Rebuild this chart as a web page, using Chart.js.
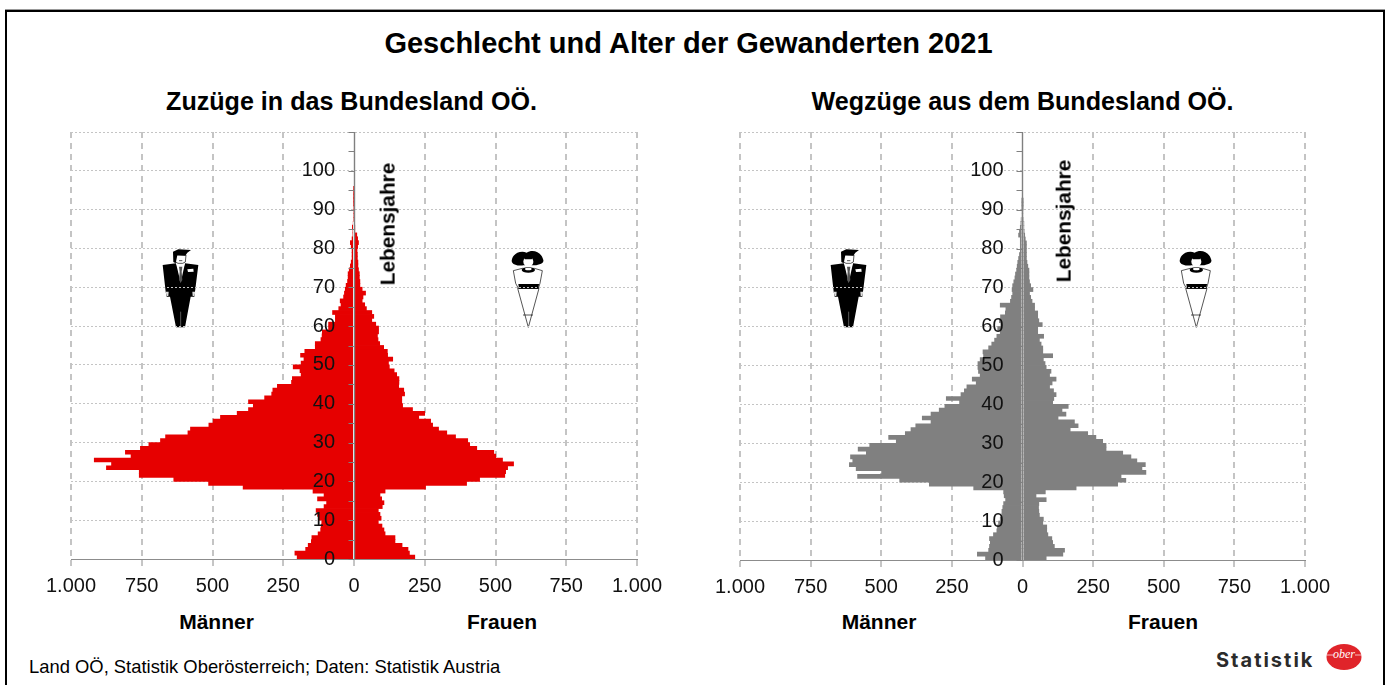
<!DOCTYPE html>
<html lang="de">
<head>
<meta charset="utf-8">
<title>Geschlecht und Alter der Gewanderten 2021</title>
<script src="https://cdn.jsdelivr.net/npm/chart.js@4/dist/chart.umd.min.js"></script>
<style>
html,body{margin:0;padding:0;background:#fff;overflow:hidden;width:1388px;height:685px;font-family:"Liberation Sans",Arial,sans-serif;color:#000}
#frame{position:absolute;left:5px;top:10px;width:1376px;height:700px;border:2px solid #000;box-shadow:0 -1px 0 #999}
.t{position:absolute;white-space:nowrap;line-height:1}
.b{font-weight:bold}
.c{transform:translateX(-50%)}
.v{transform:translate(-50%,-50%) rotate(-90deg)}
canvas{position:absolute;top:0}
svg{position:absolute}
</style>
</head>
<body>
<div id="frame"></div>

<svg style="left:150px;top:240px" width="70" height="95" viewBox="0 0 210 285"><use href="#man"/></svg>
<svg style="left:818px;top:240px" width="70" height="95" viewBox="0 0 210 285"><use href="#man"/></svg>
<svg style="left:495px;top:240px" width="70" height="95" viewBox="0 0 210 285"><use href="#woman"/></svg>
<svg style="left:1163px;top:240px" width="70" height="95" viewBox="0 0 210 285"><use href="#woman"/></svg>
<svg width="0" height="0" style="left:0;top:0">
  <defs>
    <g id="man">
      <path d="M38,75 L78,70 L92,105 L105,70 L145,75 L135,155 L133,170 L122,170 L105,262 L78,262 L60,170 L50,170 L47,155 Z" fill="#000"/>
      <path d="M78,70 L92,128 L105,70 Z" fill="#fff"/>
      <path d="M87,80 L97,80 L95,95 L97,120 L92,128 L87,120 L89,95 Z" fill="#555"/>
      <path d="M112,88 L130,86 L131,95 L114,96 Z" fill="#fff"/>
      <path d="M47,155 L56,155 L55,168 L50,168 Z M127,155 L136,155 L133,168 L128,168 Z" fill="#ddd"/>
      <path d="M75,45 L108,45 L106,66 L98,70 L84,70 L77,66 Z" fill="#fff" stroke="#000" stroke-width="2"/>
      <path d="M69,35 L85,28 L123,30 L112,38 L106,47 L82,46 L77,70 L70,66 Z" fill="#000"/>
      <path d="M87,62 L97,62" stroke="#000" stroke-width="2"/>
      <path d="M92,215 L92,262" stroke="#888" stroke-width="2"/>
    </g>
    <g id="woman">
      <path d="M68,145 L132,145 L100,262 Z" fill="#fff" stroke="#000" stroke-width="2"/>
      <path d="M84,225 L114,225" stroke="#000" stroke-width="2"/>
      <path d="M55,92 L82,85 L118,85 L142,92 L135,130 L130,145 L70,145 L62,130 Z" fill="#fff" stroke="#000" stroke-width="2"/>
      <path d="M70,132 L132,132 L130,146 L72,146 Z" fill="#000"/>
      <ellipse cx="100" cy="90" rx="20" ry="8" fill="#000"/>
      <ellipse cx="100" cy="87" rx="10" ry="4" fill="#fff"/>
      <path d="M50,62 C52,42 75,30 95,38 C110,28 138,32 145,60 C148,72 125,76 115,76 L85,76 C75,78 50,76 50,62 Z" fill="#000"/>
      <circle cx="100" cy="65" r="15" fill="#fff"/>
      <path d="M85,52 C92,46 108,46 115,52 L110,58 L90,58 Z" fill="#000"/>
    </g>
  </defs>
</svg>

<div class="t b c" id="mainTitle" style="left:688.5px;top:29px;font-size:29px">Geschlecht und Alter der Gewanderten 2021</div>
<div class="t b c" style="left:351.5px;top:88.5px;font-size:25.1px">Zuzüge in das Bundesland OÖ.</div>
<div class="t b c" style="left:1022.5px;top:88.5px;font-size:25.1px">Wegzüge aus dem Bundesland OÖ.</div>

<canvas id="left" width="703" height="600" style="left:0"></canvas>
<canvas id="right" width="664" height="600" style="left:690px"></canvas>

<div class="t b v" style="left:388px;top:223.5px;font-size:20.8px">Lebensjahre</div>
<div class="t b v" style="left:1064px;top:220.5px;font-size:20.8px">Lebensjahre</div>
<div class="t b c" style="left:216.5px;top:611px;font-size:21px">Männer</div>
<div class="t b c" style="left:502px;top:611px;font-size:21px">Frauen</div>
<div class="t b c" style="left:879px;top:611px;font-size:21px">Männer</div>
<div class="t b c" style="left:1163px;top:611px;font-size:21px">Frauen</div>
<div class="t" style="left:29px;top:658px;font-size:18.4px">Land OÖ, Statistik Oberösterreich; Daten: Statistik Austria</div>
<div class="t" style="left:1216px;top:650px;font-family:Inter,sans-serif;font-weight:700;font-size:20px;letter-spacing:2px;color:#2b2b2b">Statistik</div>
<svg style="left:1325px;top:643px" width="38" height="28" viewBox="0 0 38 28">
  <ellipse cx="19" cy="14" rx="17.5" ry="13" fill="#e0242a"/>
  <text x="19" y="15" text-anchor="middle" font-family="Liberation Serif,serif" font-style="italic" font-size="12" fill="#fff">ober</text>
  <path d="M2,12 L8,12 M30,12 L36,12" stroke="#fff" stroke-width="0.7"/>
</svg>

<script>
const ages = [0,1,2,3,4,5,6,7,8,9,10,11,12,13,14,15,16,17,18,19,20,21,22,23,24,25,26,27,28,29,30,31,32,33,34,35,36,37,38,39,40,41,42,43,44,45,46,47,48,49,50,51,52,53,54,55,56,57,58,59,60,61,62,63,64,65,66,67,68,69,70,71,72,73,74,75,76,77,78,79,80,81,82,83,84,85,86,87,88,89,90,91,92,93,94,95];
const xTicksLabelled = [-1000,-750,-500,-250,0,250,500,750,1000];
const yTicksAll = [0,5,10,15,20,25,30,35,40,45,50,55,60,65,70,75,80,85,90,95,100,105,110];

const zuzugMaenner = [202,210,172,163,152,150,128,119,117,115,125,130,135,107,98,130,107,146,393,515,638,760,760,876,858,919,789,809,756,726,685,667,588,579,514,499,473,414,374,357,374,317,292,288,272,222,219,188,192,216,188,178,190,175,138,138,118,114,113,91,91,67,67,77,55,47,50,38,35,32,29,24,22,22,18,14,11,8,8,8,11,14,8,5,5,7,4,2,2,2,2,1,1,1,1,1];
const zuzugFrauen = [216,197,192,171,146,146,111,107,100,87,97,93,87,101,107,99,93,111,254,399,445,534,537,544,565,526,502,495,435,410,403,360,329,300,279,272,230,251,208,173,170,170,180,177,159,160,160,152,143,126,123,138,120,119,106,92,86,84,88,88,78,64,71,64,45,39,30,33,42,30,22,22,20,20,17,15,15,13,13,12,14,17,14,11,4,4,3,3,3,3,2,2,1,1,1,1];
const wegzugMaenner = [132,161,121,118,115,118,104,92,90,86,80,74,74,71,68,61,66,68,174,331,436,585,500,590,614,602,610,554,583,542,448,475,416,396,379,325,356,325,296,276,224,271,219,207,198,165,179,151,157,159,159,151,139,141,121,110,100,92,80,89,78,83,79,62,60,80,44,40,36,38,36,32,28,26,22,20,18,15,12,9,9,9,9,15,12,9,7,6,4,3,2,1,1,0,0,0];
const wegzugFrauen = [85,144,150,114,108,105,91,87,87,73,75,61,59,58,59,85,49,82,191,338,367,350,438,424,436,406,385,356,297,297,285,261,232,170,198,185,127,155,141,163,108,112,120,111,97,106,120,97,102,85,81,75,108,73,73,67,61,76,55,55,71,59,55,55,44,44,35,30,26,38,30,26,24,24,24,20,17,15,15,15,15,15,11,9,7,6,6,5,4,3,2,1,1,0,0,0];

const TICK_GREY = '#808080';
const FONT = '"Liberation Sans",Arial,sans-serif';
const ageAxis = {
  id: 'ageAxis',
  afterDatasetsDraw(chart) {
    const y = chart.scales.y, x0 = Math.floor(chart.scales.x.getPixelForValue(0)) + 0.5, c = chart.ctx;
    c.save();
    c.strokeStyle = TICK_GREY;
    c.lineWidth = 1.4;
    c.beginPath();
    c.moveTo(x0, y.top); c.lineTo(x0, y.bottom);
    c.stroke();
    c.lineWidth = 1;
    c.beginPath();
    y.ticks.forEach(t => {
      const py = Math.round(y.getPixelForValue(t.value)) + 0.5;
      c.moveTo(x0 - 6, py); c.lineTo(x0, py);
    });
    c.stroke();
    c.restore();
  }
};

function pyramid(id, men, women, colour, paddingLeft, paddingRight, areaBottom) {
  const toPoints = (vals, sign) => vals.map((v, i) => ({ x: sign * v, y: ages[i] + 0.5 }));
  const H = 600;
  const barStyle = { backgroundColor: colour, borderWidth: 0, barPercentage: 1.2, categoryPercentage: 1, grouped: false, yAxisID: 'y' };
  return new Chart(document.getElementById(id), {
    type: 'bar',
    plugins: [ageAxis],
    data: {
      datasets: [
        { label: 'Männer', data: toPoints(men, -1), ...barStyle },
        { label: 'Frauen', data: toPoints(women, 1), ...barStyle }
      ]
    },
    options: {
      indexAxis: 'y',
      responsive: false,
      animation: false,
      layout: { padding: { left: paddingLeft, right: paddingRight, top: 132, bottom: 0 } },
      plugins: {
        legend: { display: false },
        tooltip: { enabled: false }
      },
      scales: {
        x: {
          type: 'linear',
          min: -1000, max: 1000,
          afterFit(s) { s.height = H - areaBottom; },
          afterBuildTicks(s) { s.ticks = xTicksLabelled.map(v => ({ value: v })); },
          ticks: {
            autoSkip: false, maxRotation: 0, padding: 8,
            color: '#111',
            font: { family: FONT, size: 20 },
            callback: v => Math.abs(v) === 1000 ? '1.000' : String(Math.abs(v))
          },
          border: { color: '#8c8c8c', dash: [6, 5] },
          grid: {
            lineWidth: 2,
            tickLength: 7,
            tickWidth: 1,
            tickColor: '#8c8c8c',
            tickBorderDash: [],
            color: c => c.tick && c.tick.value === 0 ? 'transparent' : '#c4c4c4'
          }
        },
        y: {
          type: 'linear',
          position: { x: 0 },
          offset: false,
          min: 0, max: 110,
          afterBuildTicks(s) { s.ticks = yTicksAll.map(v => ({ value: v })); },
          ticks: { display: false },
          border: { display: false, dash: [2, 2] },
          grid: {
            offset: false,
            drawTicks: false,
            lineWidth: 1,
            color: c => c.tick && c.tick.value % 10 === 0 && c.tick.value !== 0 ? '#c4c4c4' : 'transparent'
          }
        },
        yLabels: {
          type: 'linear',
          axis: 'y',
          position: { x: -67 },
          offset: false,
          min: 0, max: 110,
          afterBuildTicks(s) { s.ticks = yTicksAll.filter(v => v % 10 === 0 && v !== 110).map(v => ({ value: v })); },
          ticks: {
            autoSkip: false, z: 1,
            color: '#111',
            font: { family: FONT, size: 20 },
            callback: v => String(v)
          },
          border: { display: false },
          grid: { display: false, drawTicks: false }
        }
      }
    }
  });
}

pyramid('left', zuzugMaenner, zuzugFrauen, '#E60000', 71, 66, 559);
pyramid('right', wegzugMaenner, wegzugFrauen, '#808080', 50, 49, 560);
</script>
</body>
</html>
